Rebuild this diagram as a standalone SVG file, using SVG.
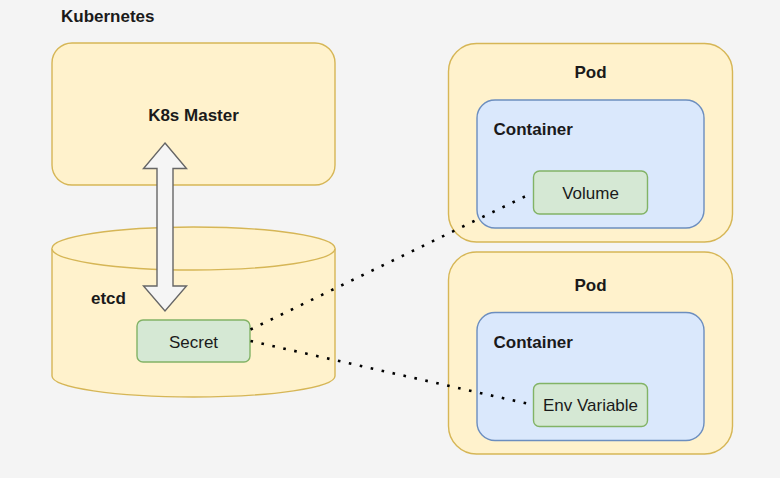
<svg xmlns="http://www.w3.org/2000/svg" width="780" height="478" viewBox="0 0 780 478">
<style>
.yel{fill:#fff2cc;stroke:#d6b656;stroke-width:1.4}
.blu{fill:#dae8fc;stroke:#6c8ebf;stroke-width:1.4}
.grn{fill:#d5e8d4;stroke:#82b366;stroke-width:1.4}
.b{font-family:"Liberation Sans",Arial,sans-serif;font-weight:bold;font-size:17px;fill:#1a1a1a}
.n{font-family:"Liberation Sans",Arial,sans-serif;font-size:17px;fill:#1a1a1a}
.dot{fill:none;stroke:#000;stroke-width:2.6;stroke-dasharray:2.6 8.6}
</style>
<rect width="780" height="478" fill="#f4f4f4"/>
<text class="b" x="61" y="21.5">Kubernetes</text>
<g id="master">
<rect class="yel" x="52" y="43" width="283" height="142" rx="20"/>
<text class="b" x="193.5" y="120.5" text-anchor="middle">K8s Master</text>
</g>
<g id="etcd">
<path class="yel" d="M52,248.5 A141.5,21.5 0 0 1 335,248.5 L335,376 A141.5,21 0 0 1 52,376 Z"/>
<path class="yel" fill="none" d="M52,248.5 A141.5,21.5 0 0 0 335,248.5"/>
<text class="b" x="91" y="304">etcd</text>
</g>
<g id="secret">
<rect class="grn" x="137" y="320" width="113" height="42" rx="6"/>
<text class="n" x="193.5" y="347.5" text-anchor="middle">Secret</text>
</g>
<g id="pod1">
<rect class="yel" x="448.5" y="43.5" width="284" height="198.5" rx="28"/>
<text class="b" x="590.5" y="78" text-anchor="middle">Pod</text>
</g>
<g id="container1">
<rect class="blu" x="477" y="100" width="227" height="128" rx="18"/>
<text class="b" x="493.5" y="135">Container</text>
</g>
<g id="volume">
<rect class="grn" x="533.5" y="171" width="114" height="43" rx="6"/>
<text class="n" x="590.5" y="198.5" text-anchor="middle">Volume</text>
</g>
<g id="pod2">
<rect class="yel" x="448.5" y="252" width="284" height="202" rx="28"/>
<text class="b" x="590.5" y="290.5" text-anchor="middle">Pod</text>
</g>
<g id="container2">
<rect class="blu" x="477" y="312.5" width="227" height="128" rx="18"/>
<text class="b" x="493.5" y="347.5">Container</text>
</g>
<g id="envvar">
<rect class="grn" x="533.5" y="383.5" width="114" height="43" rx="6"/>
<text class="n" x="590.5" y="411" text-anchor="middle">Env Variable</text>
</g>
<g id="connectors">
<polygon points="165,143 186.5,168.5 173,168.5 173,286 186.5,286 165,311 143.5,286 157,286 157,168.5 143.5,168.5" fill="#f5f5f5" stroke="#666666" stroke-width="1.4" stroke-linejoin="miter"/>
<line class="dot" x1="250.5" y1="329.5" x2="528" y2="195"/>
<line class="dot" x1="250.5" y1="341" x2="529" y2="404"/>
</g>
</svg>
